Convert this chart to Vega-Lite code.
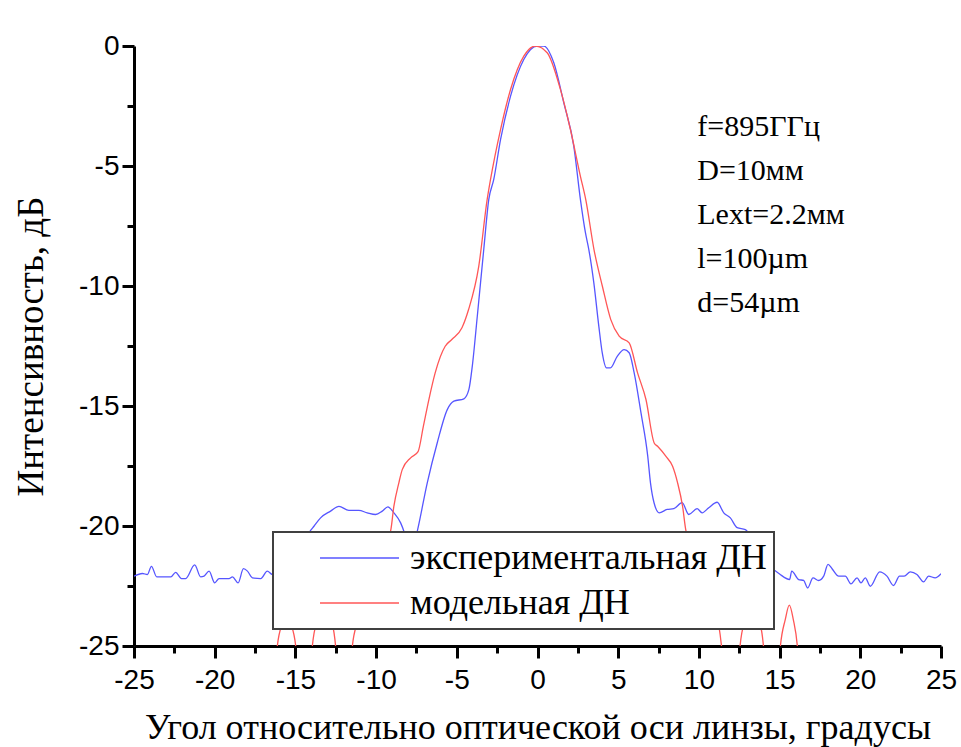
{
  "$schema": "https://vega.github.io/schema/vega-lite/v6.json",
  "width": 807,
  "height": 600,
  "autosize": {"type": "none"},
  "padding": {"left": 134, "top": 46, "right": 20, "bottom": 101},
  "background": "white",
  "config": {
    "view": {"stroke": null},
    "axis": {
      "domainColor": "black", "domainWidth": 3, "tickColor": "black", "tickWidth": 3,
      "labelColor": "black", "labelFont": "Liberation Sans", "labelFontSize": 28,
      "titleFont": "Liberation Serif", "titleFontSize": 36, "titleFontWeight": "normal", "titleColor": "black",
      "grid": false, "labelFlush": false, "labelOverlap": false
    },
    "legend": {
      "labelFont": "Liberation Serif", "labelFontSize": 36, "labelColor": "black", "labelLimit": 800,
      "symbolType": "stroke", "symbolSize": 6241, "symbolStrokeWidth": 1.3, "rowPadding": 7,
      "padding": 7, "strokeColor": "#404040", "fillColor": "white"
    }
  },
  "datasets": {
    "exp": [
      {"a": -25.0, "d": -22.09}, {"a": -24.48, "d": -21.98}, {"a": -24.17, "d": -22.02}, {"a": -23.92, "d": -21.68},
      {"a": -23.59, "d": -22.12}, {"a": -22.72, "d": -22.12}, {"a": -22.42, "d": -21.93}, {"a": -22.06, "d": -22.19},
      {"a": -21.8, "d": -22.19}, {"a": -21.24, "d": -21.62}, {"a": -20.87, "d": -22.12}, {"a": -20.66, "d": -22.09},
      {"a": -20.35, "d": -21.88}, {"a": -20.0, "d": -22.37}, {"a": -19.73, "d": -22.19}, {"a": -19.11, "d": -22.19},
      {"a": -18.9, "d": -22.12}, {"a": -18.55, "d": -22.37}, {"a": -18.22, "d": -21.78}, {"a": -17.97, "d": -21.88},
      {"a": -17.66, "d": -22.16}, {"a": -17.15, "d": -22.19}, {"a": -16.74, "d": -21.88}, {"a": -16.43, "d": -22.02},
      {"a": -15.7, "d": -21.6}, {"a": -15.0, "d": -21.0}, {"a": -14.5, "d": -20.6},
      {"a": -14.1, "d": -20.22}, {"a": -13.85, "d": -20.01}, {"a": -13.44, "d": -19.66}, {"a": -12.82, "d": -19.38},
      {"a": -12.3, "d": -19.18}, {"a": -11.69, "d": -19.35}, {"a": -11.07, "d": -19.35}, {"a": -10.55, "d": -19.45},
      {"a": -10.03, "d": -19.52}, {"a": -9.62, "d": -19.38}, {"a": -9.27, "d": -19.2}, {"a": -8.9, "d": -19.45},
      {"a": -8.48, "d": -19.87}, {"a": -8.28, "d": -20.22}, {"a": -8.0, "d": -21.0}, {"a": -7.75, "d": -21.0},
      {"a": -7.45, "d": -20.22}, {"a": -6.83, "d": -18.2}, {"a": -6.21, "d": -16.53}, {"a": -5.59, "d": -15.15},
      {"a": -5.18, "d": -14.8}, {"a": -4.56, "d": -14.7}, {"a": -4.25, "d": -14.31}, {"a": -4.04, "d": -13.34},
      {"a": -3.73, "d": -11.26}, {"a": -3.33, "d": -8.48}, {"a": -3.02, "d": -6.4}, {"a": -2.71, "d": -5.56},
      {"a": -2.29, "d": -3.9}, {"a": -1.67, "d": -2.09}, {"a": -0.85, "d": -0.56}, {"a": -0.02, "d": 0.0},
      {"a": 0.39, "d": 0.0}, {"a": 1.01, "d": -0.7}, {"a": 1.63, "d": -2.37}, {"a": 2.25, "d": -4.18},
      {"a": 2.66, "d": -6.4}, {"a": 2.97, "d": -7.78}, {"a": 3.18, "d": -8.48}, {"a": 3.49, "d": -9.87},
      {"a": 3.8, "d": -11.68}, {"a": 4.01, "d": -12.78}, {"a": 4.27, "d": -13.41}, {"a": 4.52, "d": -13.41},
      {"a": 4.94, "d": -12.93}, {"a": 5.37, "d": -12.65}, {"a": 5.68, "d": -12.78}, {"a": 5.99, "d": -13.62},
      {"a": 6.41, "d": -15.28}, {"a": 6.83, "d": -17.09}, {"a": 7.0, "d": -18.2}, {"a": 7.22, "d": -19.03},
      {"a": 7.54, "d": -19.45}, {"a": 8.03, "d": -19.31}, {"a": 8.44, "d": -19.28}, {"a": 8.96, "d": -19.03},
      {"a": 9.37, "d": -19.52}, {"a": 9.89, "d": -19.28}, {"a": 10.2, "d": -19.45}, {"a": 10.61, "d": -19.24},
      {"a": 11.13, "d": -19.01}, {"a": 11.54, "d": -19.45}, {"a": 11.95, "d": -19.66}, {"a": 12.37, "d": -20.07},
      {"a": 12.88, "d": -20.15}, {"a": 13.5, "d": -20.8}, {"a": 14.3, "d": -21.6}, {"a": 15.0, "d": -22.0},
      {"a": 15.62, "d": -22.23}, {"a": 15.75, "d": -21.88}, {"a": 16.18, "d": -22.23}, {"a": 16.49, "d": -22.27},
      {"a": 16.74, "d": -22.58}, {"a": 17.07, "d": -22.16}, {"a": 17.42, "d": -22.27}, {"a": 17.73, "d": -22.09},
      {"a": 18.0, "d": -21.6}, {"a": 18.25, "d": -21.78}, {"a": 18.66, "d": -22.09}, {"a": 19.07, "d": -22.09},
      {"a": 19.42, "d": -22.41}, {"a": 19.8, "d": -22.16}, {"a": 20.04, "d": -22.37}, {"a": 20.31, "d": -22.16},
      {"a": 20.62, "d": -22.51}, {"a": 21.2, "d": -21.91}, {"a": 21.65, "d": -22.09}, {"a": 22.06, "d": -22.48},
      {"a": 22.43, "d": -22.09}, {"a": 22.72, "d": -22.09}, {"a": 23.1, "d": -21.91}, {"a": 23.51, "d": -22.02},
      {"a": 23.92, "d": -22.33}, {"a": 24.23, "d": -22.09}, {"a": 24.64, "d": -22.16}, {"a": 25.0, "d": -21.99}
    ],
    "model": [
      {"a": -16.6, "d": -32}, {"a": -16.12, "d": -25}, {"a": -15.75, "d": -23.9}, {"a": -15.55, "d": -23.3},
      {"a": -15.35, "d": -23.9}, {"a": -14.98, "d": -25}, {"a": -14.45, "d": -32}, {"a": -13.95, "d": -25},
      {"a": -13.6, "d": -23.8}, {"a": -13.2, "d": -23.0}, {"a": -12.8, "d": -23.8}, {"a": -12.51, "d": -25},
      {"a": -12.0, "d": -32}, {"a": -11.47, "d": -25}, {"a": -11.16, "d": -24.0}, {"a": -10.7, "d": -22.9},
      {"a": -10.1, "d": -21.7}, {"a": -9.6, "d": -20.9}, {"a": -9.1, "d": -20.2}, {"a": -8.9, "d": -19.18},
      {"a": -8.59, "d": -18.2}, {"a": -8.38, "d": -17.65}, {"a": -7.86, "d": -17.16}, {"a": -7.4, "d": -16.9},
      {"a": -7.07, "d": -15.84}, {"a": -6.73, "d": -14.73}, {"a": -6.34, "d": -13.62}, {"a": -5.72, "d": -12.51},
      {"a": -5.31, "d": -12.23}, {"a": -4.68, "d": -11.74}, {"a": -4.27, "d": -10.98}, {"a": -3.64, "d": -9.18},
      {"a": -3.12, "d": -6.4}, {"a": -2.91, "d": -5.56}, {"a": -2.29, "d": -3.48}, {"a": -1.67, "d": -1.81},
      {"a": -0.85, "d": -0.42}, {"a": -0.12, "d": 0.0}, {"a": 0.6, "d": -0.28}, {"a": 1.42, "d": -1.81},
      {"a": 2.04, "d": -3.48}, {"a": 2.66, "d": -5.43}, {"a": 2.99, "d": -6.4}, {"a": 3.5, "d": -8.48},
      {"a": 4.02, "d": -10.01}, {"a": 4.54, "d": -11.4}, {"a": 5.06, "d": -12.09}, {"a": 5.68, "d": -12.37},
      {"a": 6.2, "d": -13.62}, {"a": 6.72, "d": -14.73}, {"a": 7.23, "d": -16.54}, {"a": 7.44, "d": -16.68},
      {"a": 7.96, "d": -17.1}, {"a": 8.37, "d": -17.51}, {"a": 8.68, "d": -18.2}, {"a": 8.99, "d": -19.18},
      {"a": 9.2, "d": -20.2}, {"a": 9.7, "d": -20.9}, {"a": 10.3, "d": -21.9}, {"a": 10.9, "d": -23.1},
      {"a": 11.2, "d": -24.0}, {"a": 11.4, "d": -25}, {"a": 12.0, "d": -32}, {"a": 12.55, "d": -25},
      {"a": 12.9, "d": -23.8}, {"a": 13.3, "d": -23.0}, {"a": 13.7, "d": -23.8}, {"a": 14.0, "d": -25},
      {"a": 14.5, "d": -32}, {"a": 15.05, "d": -25}, {"a": 15.35, "d": -23.9}, {"a": 15.6, "d": -23.3},
      {"a": 15.85, "d": -23.9}, {"a": 16.1, "d": -25}, {"a": 16.6, "d": -32}
    ]
  },
  "layer": [
    {
      "data": {"name": "exp"},
      "mark": {"type": "line", "clip": true, "strokeWidth": 1.3, "interpolate": "monotone"},
      "encoding": {
        "x": {
          "field": "a", "type": "quantitative",
          "scale": {"domain": [-25, 25], "nice": false, "zero": false},
          "axis": {
            "title": "Угол относительно оптической оси линзы, градусы",
            "values": [-25, -22.5, -20, -17.5, -15, -12.5, -10, -7.5, -5, -2.5, 0, 2.5, 5, 7.5, 10, 12.5, 15, 17.5, 20, 22.5, 25],
            "tickSize": {"condition": {"test": "datum.value % 5 === 0", "value": 12}, "value": 7},
            "labelExpr": "datum.value % 5 === 0 ? '' + datum.value : ''",
            "labelPadding": 8,
            "titlePadding": 16
          }
        },
        "y": {
          "field": "d", "type": "quantitative",
          "scale": {"domain": [-25, 0], "nice": false, "zero": false},
          "axis": {
            "title": "Интенсивность, дБ",
            "titleFontSize": 37,
            "values": [-25, -22.5, -20, -17.5, -15, -12.5, -10, -7.5, -5, -2.5, 0],
            "tickSize": {"condition": {"test": "datum.value % 5 === 0", "value": 12}, "value": 7},
            "labelExpr": "datum.value % 5 === 0 ? '' + datum.value : ''",
            "labelPadding": 3,
            "titlePadding": 28
          }
        },
        "color": {
          "datum": "экспериментальная ДН",
          "type": "nominal",
          "scale": {"domain": ["экспериментальная ДН", "модельная ДН"], "range": ["#5656ff", "#ff5656"]},
          "legend": {
            "title": null, "orient": "none", "legendX": 139, "legendY": 486, "direction": "vertical",
            "clipHeight": 38, "symbolOffset": 39, "labelOffset": 10,
            "labelFont": "Liberation Serif", "labelFontSize": 36,
            "zindex": 1,
            "encode": {
              "legend": {"update": {"strokeWidth": {"value": 2}}}
            }
          }
        }
      }
    },
    {
      "data": {"name": "model"},
      "mark": {"type": "line", "clip": true, "strokeWidth": 1.3, "interpolate": "monotone"},
      "encoding": {
        "x": {"field": "a", "type": "quantitative"},
        "y": {"field": "d", "type": "quantitative"},
        "color": {"datum": "модельная ДН", "type": "nominal"}
      }
    },
    {
      "data": {"values": [{}]},
      "mark": {"type": "text", "align": "left", "baseline": "alphabetic", "font": "Liberation Serif", "fontSize": 30, "lineHeight": 44, "color": "black"},
      "encoding": {
        "x": {"datum": 9.9, "type": "quantitative"},
        "y": {"datum": -3.76, "type": "quantitative"},
        "text": {"value": ["f=895ГГц", "D=10мм", "Lext=2.2мм", "l=100µm", "d=54µm"]}
      }
    }
  ]
}
